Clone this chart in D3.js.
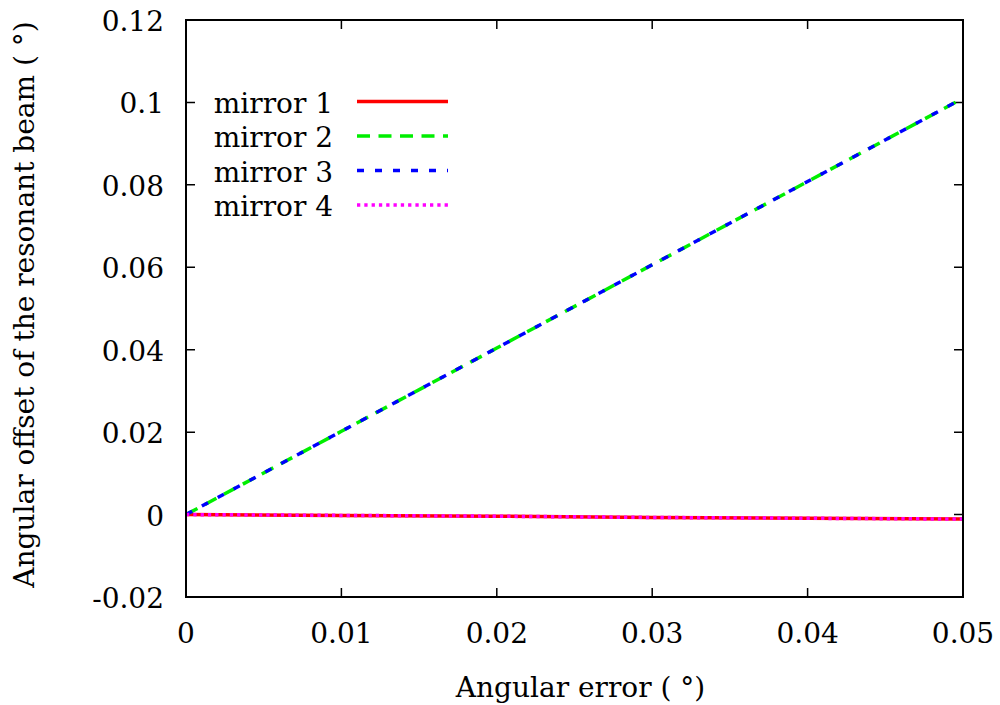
<!DOCTYPE html>
<html>
<head>
<meta charset="utf-8">
<script src="https://cdn.jsdelivr.net/npm/d3@7"></script>
<style>
  body { margin: 0; background: #fff; }
  text { fill: #000; }
</style>
</head>
<body>
<div id="chart"></div>
<script>
// data
var angErr = [0, 0.01, 0.02, 0.03, 0.04, 0.05];
var mirror1 = [0, -0.0002, -0.0004, -0.0007, -0.0009, -0.0011];
var mirror2 = [0, 0.0202, 0.0404, 0.0606, 0.0808, 0.101];
var mirror3 = [0, 0.0202, 0.0404, 0.0606, 0.0808, 0.101];
var mirror4 = [0, -0.0002, -0.0004, -0.0007, -0.0009, -0.0011];
var seriesNames = ["mirror 1", "mirror 2", "mirror 3", "mirror 4"];
var xTicks = [0, 0.01, 0.02, 0.03, 0.04, 0.05];
var yTicks = [-0.02, 0, 0.02, 0.04, 0.06, 0.08, 0.1, 0.12];

// serif face: Liberation Serif did not come through, DejaVu Serif as stand-in
var serif = "'DejaVu Serif', serif";
var fs = 28;

var margin = {top: 20, right: 37, bottom: 108, left: 186},
    width = 1000 - margin.left - margin.right,
    height = 705 - margin.top - margin.bottom;

var svg = d3.select("#chart")
  .append("svg")
    .attr("width", 1000)
    .attr("height", 705)
  .append("g")
    .attr("transform", "translate(" + margin.left + "," + margin.top + ")");

var x = d3.scaleLinear().domain([0, 0.05]).range([0, width]);
var y = d3.scaleLinear().domain([-0.02, 0.12]).range([height, 0]);

var fmt = function(d) { return String(+d.toFixed(4)); };
var tickLen = 9;

function label(sel) {
  return sel.attr("font-family", serif).attr("font-size", fs);
}

// ticks (inward, mirrored on top and right)
svg.selectAll(".xt").data(xTicks).enter().append("path")
  .attr("d", function(d) {
    return "M" + x(d) + "," + height + "v" + (-tickLen) + "M" + x(d) + ",0v" + tickLen;
  })
  .attr("stroke", "#000").attr("stroke-width", 1.5);
svg.selectAll(".yt").data(yTicks).enter().append("path")
  .attr("d", function(d) {
    return "M0," + y(d) + "h" + tickLen + "M" + width + "," + y(d) + "h" + (-tickLen);
  })
  .attr("stroke", "#000").attr("stroke-width", 1.5);

// tick labels
svg.selectAll(".xl").data(xTicks).enter().append("text")
  .call(label)
  .attr("x", function(d) { return x(d); })
  .attr("y", height + 46)
  .attr("text-anchor", "middle")
  .text(fmt);
svg.selectAll(".yl").data(yTicks).enter().append("text")
  .call(label)
  .attr("x", -22)
  .attr("y", function(d) { return y(d) + 11; })
  .attr("text-anchor", "end")
  .text(fmt);

// axis titles
svg.append("text")
  .call(label)
  .attr("x", width / 2 + 6)
  .attr("y", height + 100)
  .attr("text-anchor", "middle")
  .text("Angular error ( \u00b0)");
svg.append("text")
  .call(label)
  .attr("transform", "translate(" + (34 - margin.left) + "," + (height / 2 - 4) + ") rotate(-90)")
  .attr("text-anchor", "middle")
  .text("Angular offset of the resonant beam ( \u00b0)");

// series
var series = [
  {name: seriesNames[0], values: mirror1, color: "#ff0000", dash: null},
  {name: seriesNames[1], values: mirror2, color: "#00ee00", dash: "13,8.5"},
  {name: seriesNames[2], values: mirror3, color: "#0000ff", dash: "7,11"},
  {name: seriesNames[3], values: mirror4, color: "#ff00ff", dash: "3.3,4"}
];

var line = d3.line()
  .x(function(d, i) { return x(angErr[i]); })
  .y(function(d) { return y(d); });

svg.selectAll(".series").data(series).enter().append("path")
  .attr("d", function(s) { return line(s.values); })
  .attr("fill", "none")
  .attr("stroke", function(s) { return s.color; })
  .attr("stroke-width", 3.5)
  .attr("stroke-dasharray", function(s) { return s.dash; });

// legend
var lg = svg.selectAll(".leg").data(series).enter().append("g")
  .attr("transform", function(s, i) { return "translate(0," + (81.5 + i * 34.5) + ")"; });
lg.append("text")
  .call(label)
  .attr("x", 147)
  .attr("y", 11)
  .attr("text-anchor", "end")
  .text(function(s) { return s.name; });
lg.append("line")
  .attr("x1", 171).attr("x2", 262)
  .attr("stroke", function(s) { return s.color; })
  .attr("stroke-width", 3.5)
  .attr("stroke-dasharray", function(s) { return s.dash; });

// border
svg.append("rect")
  .attr("width", width)
  .attr("height", height)
  .attr("fill", "none")
  .attr("stroke", "#000")
  .attr("stroke-width", 2);
</script>
</body>
</html>
